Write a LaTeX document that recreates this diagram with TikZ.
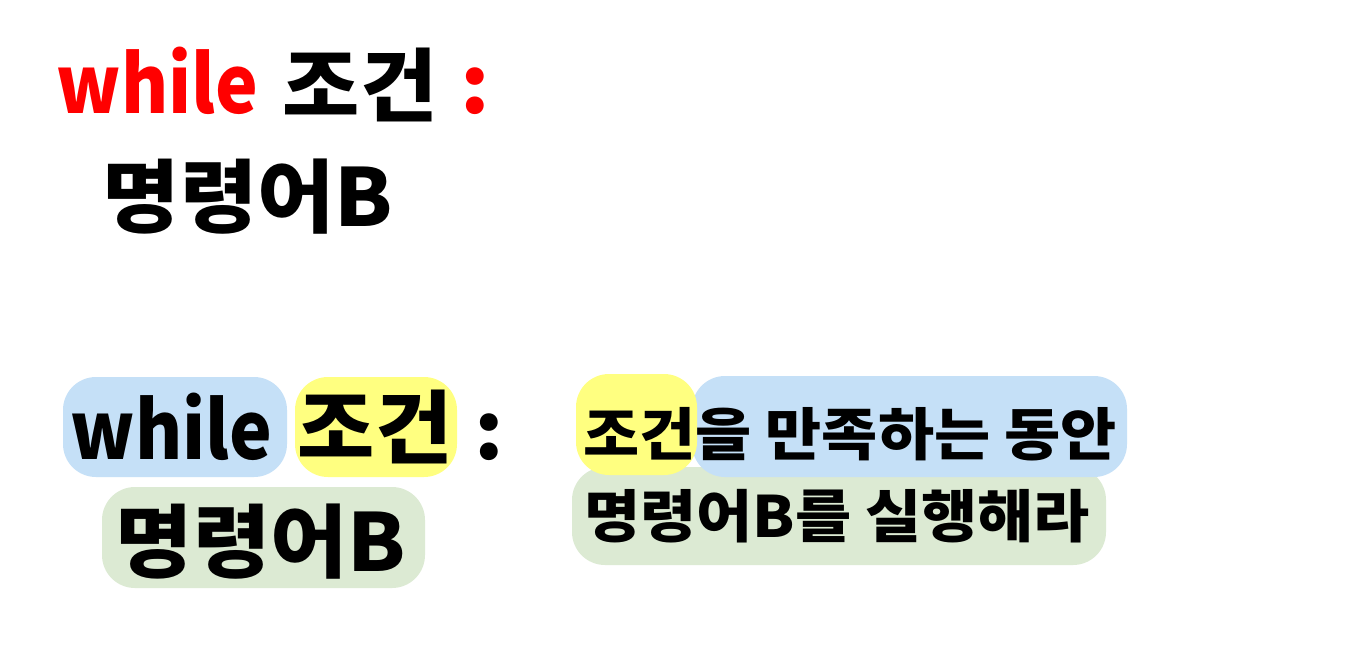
\documentclass[tikz,border=0pt]{standalone}
\usepackage{fontspec}
\newfontfamily\kr{Noto Sans CJK KR Black}[FakeStretch=1.05]
\newfontfamily\krmid{Noto Sans CJK KR Black}[FakeStretch=1.07]
\newfontfamily\krnarrow{Noto Sans CJK KR Black}[FakeStretch=0.9]
\definecolor{hlblue}{RGB}{197,224,247}
\definecolor{hlyellow}{RGB}{255,255,128}
\definecolor{hlgreen}{RGB}{220,234,211}
\definecolor{kred}{RGB}{255,0,0}
\tikzset{
  big/.style={inner sep=0pt, anchor=base, font=\kr\fontsize{80}{92}\selectfont},
  latin/.style={inner sep=0pt, anchor=base, font=\krnarrow\fontsize{80}{92}\selectfont},
  mid/.style={inner sep=0pt, anchor=base, font=\krmid\fontsize{57}{67}\selectfont},
  hl/.style={rounded corners=33pt, draw=none},
}
\begin{document}
\begin{tikzpicture}[x=1pt,y=-1pt]
\useasboundingbox[fill=white] (0,0) rectangle (1346,649);
% top block
\node[latin, text=kred] (w1) at (157.5,113) {while};
\node[big] (c1) at (360,115) {조건};
\node[big, text=kred] (k1) at (475,113) {:};
\node[big] (m1) at (248,226) {명령어B};
% bottom-left highlights
\fill[hl, hlblue] (63,377) rectangle (287,477);
\fill[hl, hlyellow] (295,377) rectangle (457,477);
\fill[hl, hlgreen] (102,487) rectangle (425,588);
\node[latin] (w2) at (171.5,459) {while};
\node[big] (c2) at (375,457) {조건};
\node[big] (k2) at (489.5,459) {:};
\node[big] (m2) at (261,571) {명령어B};
% right highlights
\fill[hl, hlgreen] (572,467) rectangle (1106,565);
\fill[hl, hlblue] (692,376) rectangle (1127,477);
\fill[hl, hlyellow] (576,374) rectangle (697,475);
\node[mid] (l1) at (850,455) {조건을 만족하는 동안};
\node[mid] (l2) at (837,537) {명령어B를 실행해라};
\end{tikzpicture}
\end{document}
